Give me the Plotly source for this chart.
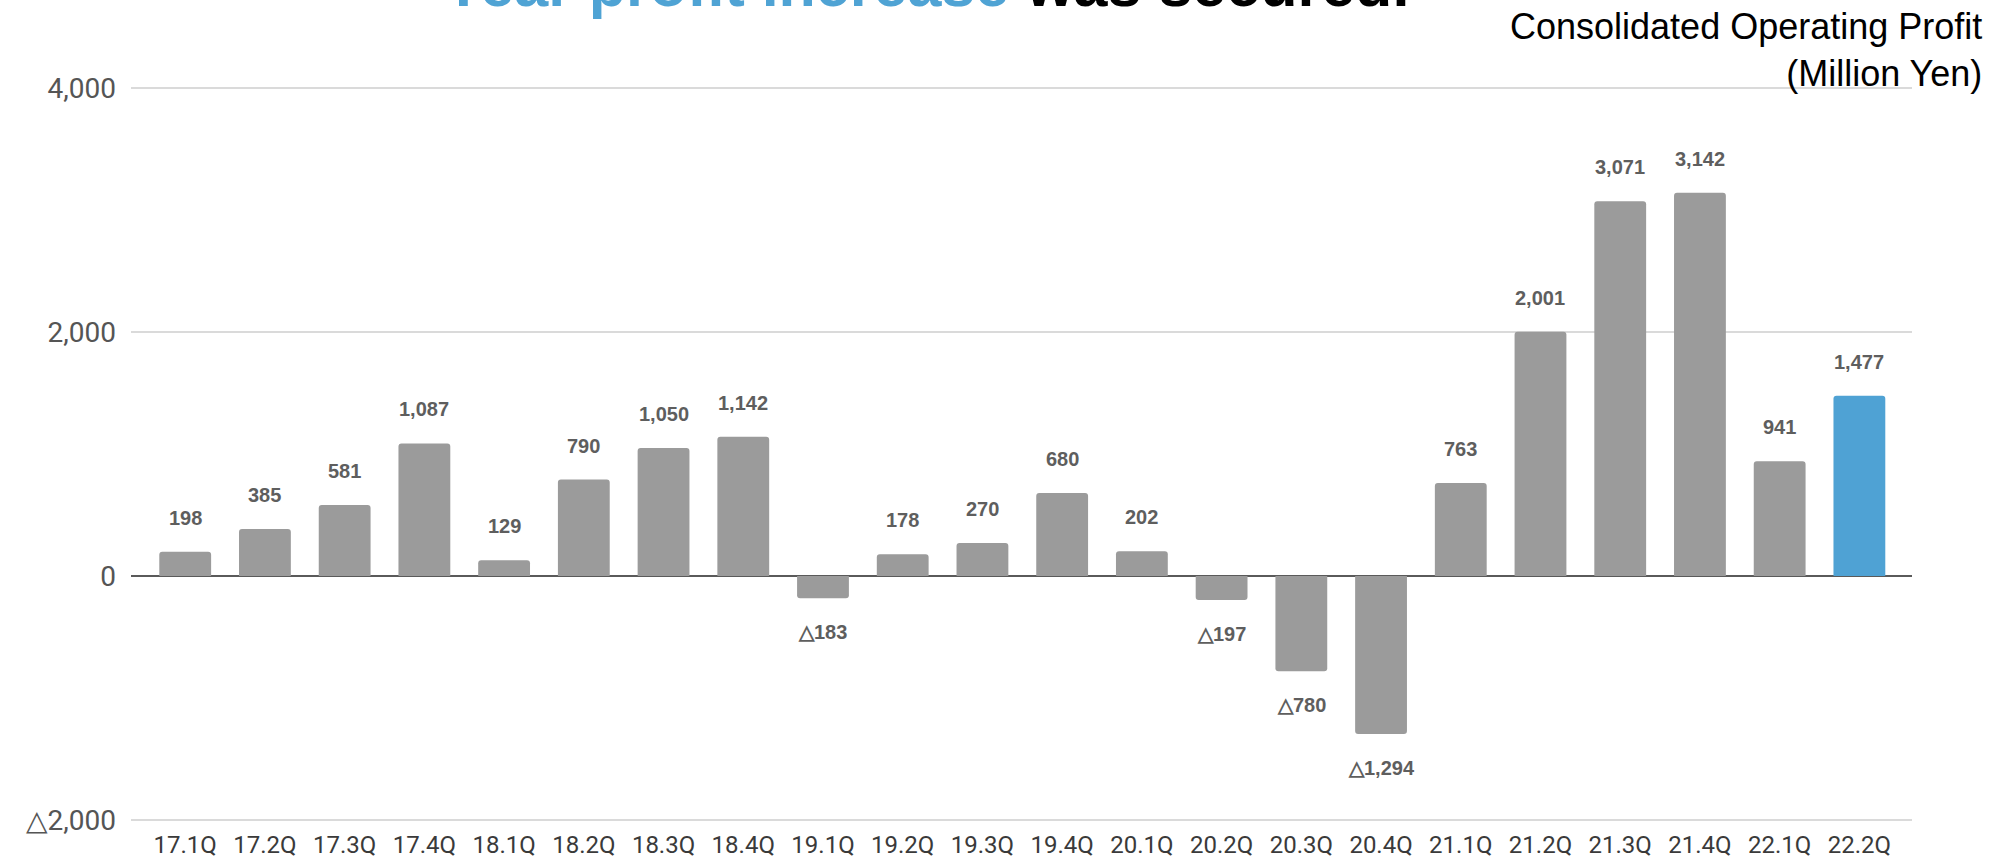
import plotly.graph_objects as go

quarters = ["17.1Q", "17.2Q", "17.3Q", "17.4Q", "18.1Q", "18.2Q", "18.3Q", "18.4Q",
            "19.1Q", "19.2Q", "19.3Q", "19.4Q", "20.1Q", "20.2Q", "20.3Q", "20.4Q",
            "21.1Q", "21.2Q", "21.3Q", "21.4Q", "22.1Q", "22.2Q"]
operating_profit = [198, 385, 581, 1087, 129, 790, 1050, 1142,
                    -183, 178, 270, 680, 202, -197, -780, -1294,
                    763, 2001, 3071, 3142, 941, 1477]
y_tick_values = [-2000, 0, 2000, 4000]
y_tick_labels = ["△2,000", "0", "2,000", "4,000"]

GRAY = "#9b9b9b"
BLUE = "#4fa2d4"
bar_colors = [GRAY] * (len(quarters) - 1) + [BLUE]

def fmt(v):
    return f"{v:,}" if v >= 0 else f"△{abs(v):,}"

# plot area in pixels
PL, PR, PT, PB = 131, 1912, 86, 822
PW, PH = PR - PL, PB - PT

fig = go.Figure()
fig.add_trace(go.Bar(
    x=list(range(len(quarters))),
    y=operating_profit,
    marker=dict(color=bar_colors, line=dict(width=0)),
    width=0.65,
    hoverinfo="skip",
))

annotations = []
for i, v in enumerate(operating_profit):
    annotations.append(dict(
        x=i, y=v, xref="x", yref="y", text=fmt(v), showarrow=False,
        xanchor="center", yanchor="middle", yshift=34 if v >= 0 else -34,
        font=dict(family="Liberation Sans, Arial, sans-serif", size=20, color="#5e5e5e", weight="bold"),
    ))

# title (cut off at top of slide, as in the source)
annotations.append(dict(
    x=(926 - PL) / PW, y=(PB - 21) / PH, xref="paper", yref="paper",
    xanchor="center", yanchor="bottom", showarrow=False,
    text='<span style="color:#4fa3d4">Year profit increase</span> was secured.',
    font=dict(family="Liberation Sans, Arial, sans-serif", size=61, color="#000000", weight="bold"),
))
annotations.append(dict(
    x=(1984 - PL) / PW, y=(PB - 4) / PH, xref="paper", yref="paper",
    xanchor="right", yanchor="top", align="right", showarrow=False,
    text="Consolidated Operating Profit<br>(Million Yen)",
    font=dict(family="Liberation Sans, Arial, sans-serif", size=36, color="#000000"),
))

fig.update_layout(
    width=2007, height=861,
    margin=dict(l=PL, r=2007 - PR, t=PT, b=861 - PB, pad=0, autoexpand=False),
    paper_bgcolor="white", plot_bgcolor="white",
    showlegend=False,
    barcornerradius=3,
    annotations=annotations,
    xaxis=dict(
        range=[-0.68, len(quarters) - 0.34],
        tickmode="array", tickvals=list(range(len(quarters))), ticktext=quarters,
        showgrid=False, zeroline=False, showline=False, ticks="",
        tickfont=dict(family="Roboto, sans-serif", size=24, color="#3a3a3a"),
        ticklabelstandoff=6,
        automargin=False,
        fixedrange=True,
    ),
    yaxis=dict(
        range=[-2016, 4016],
        tickmode="array", tickvals=y_tick_values, ticktext=y_tick_labels,
        showgrid=True, gridcolor="#dadada", gridwidth=2,
        zeroline=True, zerolinecolor="#5a5a5a", zerolinewidth=2,
        showline=False, ticks="",
        tickfont=dict(family="Roboto, sans-serif", size=28, color="#555555"),
        ticklabelstandoff=14,
        automargin=False,
        fixedrange=True,
    ),
)

fig.write_html("out.html")
